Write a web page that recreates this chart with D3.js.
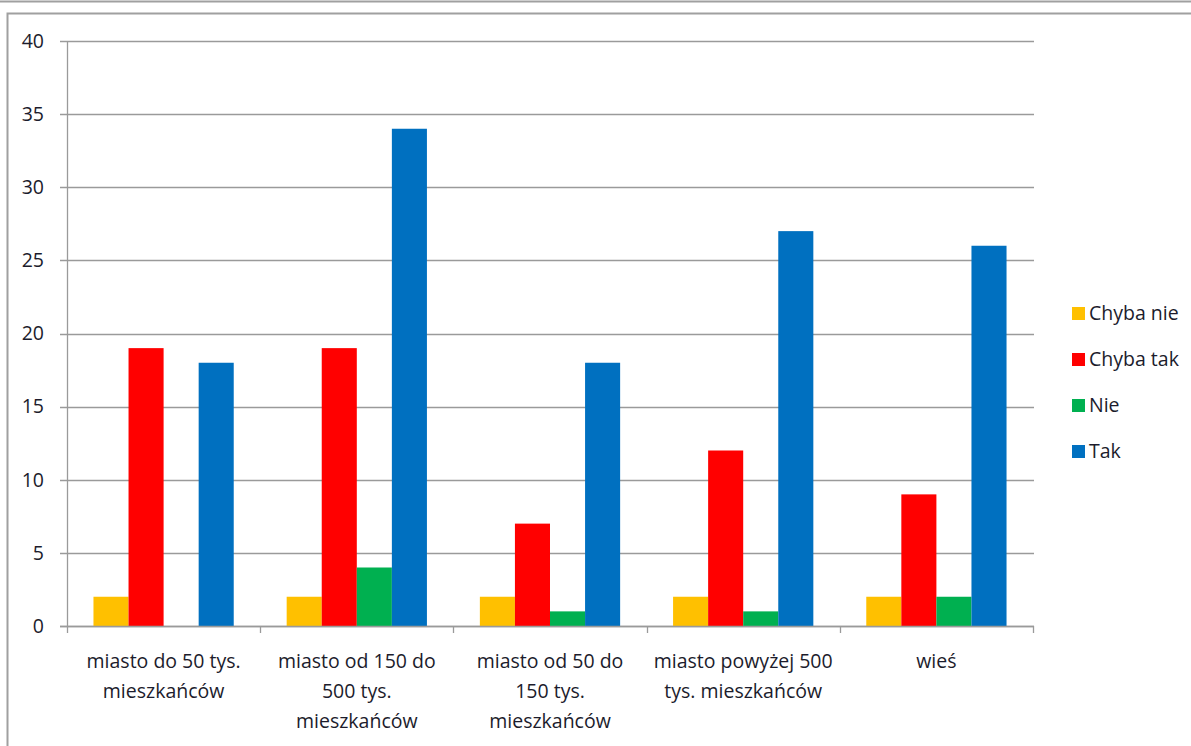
<!DOCTYPE html>
<html><head><meta charset="utf-8">
<script src="https://cdn.jsdelivr.net/npm/d3@7"></script>
<style>body{margin:0;background:#fff;}svg{display:block;font-family:"Open Sans",sans-serif;}</style>
</head><body><svg id="c" width="1191" height="746"></svg>
<script>
const categories = ["miasto do 50 tys. mieszkańców","miasto od 150 do 500 tys. mieszkańców","miasto od 50 do 150 tys. mieszkańców","miasto powyżej 500 tys. mieszkańców","wieś"];
const categoryLines = [["miasto do 50 tys.","mieszkańców"],["miasto od 150 do","500 tys.","mieszkańców"],["miasto od 50 do","150 tys.","mieszkańców"],["miasto powyżej 500","tys. mieszkańców"],["wieś"]];
const seriesNames = ["Chyba nie","Chyba tak","Nie","Tak"];
const seriesColors = ["#FFC000","#FF0000","#00B050","#0070C0"];
const chybaNie = [2,2,2,2,2];
const chybaTak = [19,19,7,12,9];
const nie = [0,4,1,1,2];
const tak = [18,34,18,27,26];
const yTicks = [0,5,10,15,20,25,30,35,40];
const values = [chybaNie, chybaTak, nie, tak];

const svg = d3.select("#c");
const L=67,R=1033,T=41,B=626;
const FS=19.5, TC="#1c1c2c";
svg.append("line").attr("x1",0).attr("x2",1191).attr("y1",1.5).attr("y2",1.5).attr("stroke","#a0a0a0").attr("stroke-width",2);
svg.append("path").attr("d","M7.5,760V13.5H1200").attr("fill","none").attr("stroke","#a0a0a0").attr("stroke-width",2);

const x = d3.scaleBand().domain(categories).range([L,R]).paddingInner(0.274).paddingOuter(0.137);
const xs = d3.scaleBand().domain(seriesNames).range([0,x.bandwidth()]);
const y = d3.scaleLinear().domain([0,40]).range([B,T]);

svg.append("g").selectAll("line").data(yTicks).join("line")
  .attr("x1",L-7).attr("x2",R+1).attr("y1",d=>Math.round(y(d))+0.5).attr("y2",d=>Math.round(y(d))+0.5)
  .attr("stroke","#9a9a9a").attr("stroke-width",1.3);
svg.append("g").selectAll("text").data(yTicks).join("text")
  .attr("x",44).attr("y",d=>y(d)).attr("dy","0.35em").attr("text-anchor","end")
  .attr("font-size",FS).attr("fill",TC).text(d=>d);
values.forEach((vals,si)=>{
  svg.append("g").selectAll("rect").data(categories).join("rect")
    .attr("x",(c)=>x(c)+xs(seriesNames[si])).attr("width",xs.bandwidth())
    .attr("y",(c,i)=>y(vals[i])).attr("height",(c,i)=>B-y(vals[i]))
    .attr("fill",seriesColors[si]);
});
svg.append("line").attr("x1",L+0.5).attr("x2",L+0.5).attr("y1",T).attr("y2",B).attr("stroke","#9a9a9a").attr("stroke-width",1.3);
svg.append("line").attr("x1",L-7).attr("x2",R+1).attr("y1",B+0.5).attr("y2",B+0.5).attr("stroke","#9a9a9a").attr("stroke-width",1.5);
const step = x.step();
const bounds = d3.range(categories.length+1).map(i=>L+i*step);
svg.append("g").selectAll("line").data(bounds).join("line")
  .attr("x1",d=>Math.round(d)+0.5).attr("x2",d=>Math.round(d)+0.5).attr("y1",B).attr("y2",B+7)
  .attr("stroke","#9a9a9a").attr("stroke-width",1.3);
categories.forEach((c,i)=>{
  const t = svg.append("text").attr("text-anchor","middle").attr("font-size",FS).attr("fill",TC);
  categoryLines[i].forEach((ln,j)=>{
    t.append("tspan").attr("x",x(c)+x.bandwidth()/2).attr("y",668+j*30).text(ln);
  });
});
const lg = svg.append("g");
seriesNames.forEach((s,i)=>{
  const yy = 313+i*46;
  lg.append("rect").attr("x",1072).attr("y",yy-6).attr("width",13).attr("height",13).attr("fill",seriesColors[i]);
  lg.append("text").attr("x",1089).attr("y",yy).attr("dy","0.35em").attr("font-size",FS).attr("fill",TC).text(s);
});
</script></body></html>
